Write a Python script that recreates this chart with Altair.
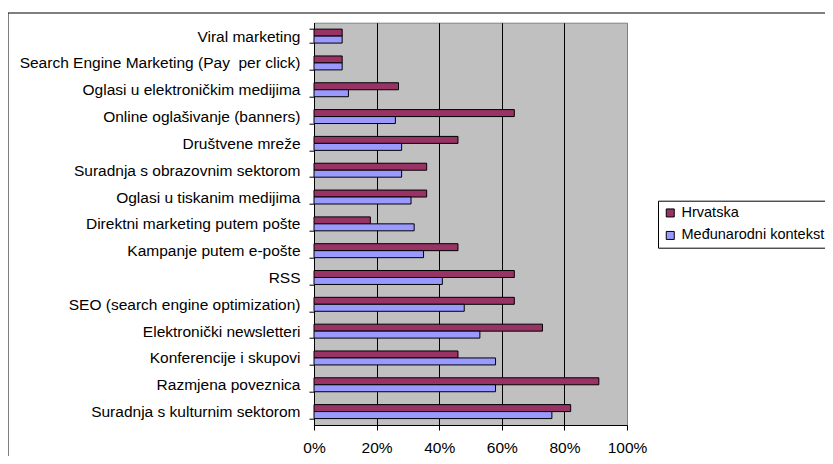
import altair as alt
import pandas as pd

categories = [
    "Viral marketing",
    "Search Engine Marketing (Pay\u00a0 per click)",
    "Oglasi u elektroničkim medijima\u00a0",
    "Online oglašivanje (banners)",
    "Društvene mreže",
    "Suradnja s obrazovnim sektorom",
    "Oglasi u tiskanim medijima\u00a0",
    "Direktni marketing putem pošte",
    "Kampanje putem e-pošte",
    "RSS",
    "SEO (search engine optimization)",
    "Elektronički newsletteri",
    "Konferencije i skupovi",
    "Razmjena poveznica",
    "Suradnja s kulturnim sektorom",
]
hrvatska = [9, 9, 27, 64, 46, 36, 36, 18, 46, 64, 64, 73, 46, 91, 82]
medjunarodni = [9, 9, 11, 26, 28, 28, 31, 32, 35, 41, 48, 53, 58, 58, 76]
series = ["Hrvatska", "Međunarodni kontekst"]
colors = ["#993366", "#9999FF"]
x_ticks = [0, 20, 40, 60, 80, 100]

rows = []
for c, h, m in zip(categories, hrvatska, medjunarodni):
    rows.append({"kategorija": c, "serija": series[0], "vrijednost": h})
    rows.append({"kategorija": c, "serija": series[1], "vrijednost": m})
df = pd.DataFrame(rows)

FONT = "Liberation Sans"

bars = alt.Chart(df).mark_bar(stroke="black", strokeWidth=1).encode(
    y=alt.Y(
        "kategorija:N",
        sort=categories,
        title=None,
        scale=alt.Scale(paddingInner=0.48, paddingOuter=0.24),
        axis=alt.Axis(
            tickBand="extent",
            tickSize=5,
            tickColor="black",
            domainColor="black",
            labelPadding=9,
            labelFontSize=15.5,
            labelFont=FONT,
            labelColor="black",
            labelLimit=400,
            grid=False,
        ),
    ),
    yOffset=alt.YOffset("serija:N", sort=series, scale=alt.Scale(paddingInner=0, paddingOuter=0)),
    x=alt.X(
        "vrijednost:Q",
        title=None,
        scale=alt.Scale(domain=[0, 100], nice=False),
        axis=alt.Axis(
            values=x_ticks,
            labelExpr="datum.value + '%'",
            labelFlush=False,
            labelOverlap=False,
            tickSize=5,
            tickColor="black",
            domainColor="black",
            labelPadding=10,
            labelFontSize=15.5,
            labelFont=FONT,
            labelColor="black",
            grid=True,
            gridColor=alt.condition("datum.value == 100", alt.value("#808080"), alt.value("black")),
            gridOpacity=1,
            gridWidth=1,
        ),
    ),
    color=alt.Color(
        "serija:N",
        sort=series,
        scale=alt.Scale(domain=series, range=colors),
        legend=alt.Legend(
            title=None,
            orient="none",
            legendX=344,
            legendY=178,
            strokeColor="black",
            fillColor="white",
            padding=5,
            symbolType="square",
            symbolSize=64,
            symbolStrokeColor="black",
            symbolStrokeWidth=1,
            symbolOpacity=1,
            labelFontSize=14.5,
            labelFont=FONT,
            labelColor="black",
            labelOffset=4,
            rowPadding=7.5,
            labelLimit=300,
        ),
    ),
)

frame = alt.Chart(alt.Data(values=[{"a": 1}])).mark_rect(
    fill="transparent", stroke="black", strokeWidth=1
).encode(
    x=alt.value(-306),
    x2=alt.value(620),
    y=alt.value(-9.7),
    y2=alt.value(500),
)

chart = alt.layer(bars, frame).properties(
    width=313,
    height=402.3,
    autosize=alt.AutoSizeParams(type="none"),
    padding={"left": 306, "top": 14.7, "right": 198, "bottom": 31},
    background="white",
).configure_view(
    fill="#C0C0C0",
    stroke="#808080",
    strokeWidth=1,
)

chart.save("out.html", embed_options={"renderer": "svg", "actions": False})
